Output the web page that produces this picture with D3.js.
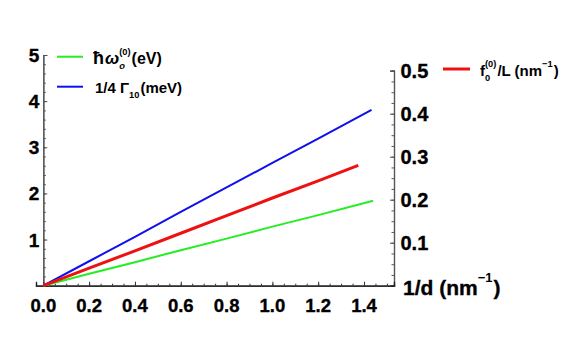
<!DOCTYPE html>
<html>
<head>
<meta charset="utf-8">
<script src="https://cdn.jsdelivr.net/npm/d3@7"></script>
<style>
  body { margin: 0; background: #fff; }
  svg { display: block; font-family: "Liberation Sans", Arial, sans-serif; font-weight: bold; }
  .lbl { stroke: #000; stroke-width: 0.35px; }
</style>
</head>
<body>
<div id="chart"></div>
<script>
// valores
const xBlue = [0, 0.2, 0.4, 0.6, 0.8, 1.0, 1.2, 1.433];
const blueVals = [0, 0.53, 1.06, 1.60, 2.13, 2.66, 3.19, 3.81];   // 1/4 Γ10 (meV), eje izquierdo
const xGreen = [0, 0.2, 0.4, 0.6, 0.8, 1.0, 1.2, 1.44];
const greenVals = [0, 0.26, 0.51, 0.77, 1.02, 1.28, 1.53, 1.84];   // ħω (eV), eje izquierdo
const xRed = [0, 0.2, 0.4, 0.6, 0.8, 1.0, 1.2, 1.375];
const redVals = [0, 0.041, 0.081, 0.122, 0.163, 0.204, 0.244, 0.280]; // f0/L, eje derecho

const xTicks = [0, 0.2, 0.4, 0.6, 0.8, 1.0, 1.2, 1.4];
const leftTicks = [1, 2, 3, 4, 5];
const rightTicks = [0.1, 0.2, 0.3, 0.4, 0.5];

const width = 581, height = 345;
const svg = d3.select("#chart").append("svg")
  .attr("width", width).attr("height", height);

const x = d3.scaleLinear().domain([-0.032, 1.531]).range([36, 394]);
const yL = d3.scaleLinear().domain([0, 5]).range([285.7, 55]);
const yR = d3.scaleLinear().domain([0, 0.5]).range([285.7, 70.7]);

const axisCol = "#555";

// eje izquierdo
const gl = svg.append("g").attr("transform", `translate(${x(0)},0)`);
gl.call(d3.axisRight(yL).tickValues(leftTicks).tickSize(4).tickFormat(""));
gl.append("g").call(d3.axisRight(yL).tickValues(d3.range(0, 5.01, 0.2)).tickSize(2.5).tickFormat(""));
gl.selectAll("path").attr("stroke", axisCol).attr("stroke-width", 1.2);
gl.selectAll("line").attr("stroke", axisCol);
gl.selectAll(".ltick").data(leftTicks).enter().append("text")
  .attr("class", "lbl").attr("fill", "#000")
  .attr("x", -4).attr("y", d => yL(d) + 7)
  .attr("text-anchor", "end").style("font-size", "19px").text(d => d);

// eje derecho
const gr = svg.append("g").attr("transform", `translate(${x.range()[1]},0)`);
gr.call(d3.axisLeft(yR).tickValues(rightTicks).tickSize(4).tickFormat(""));
gr.append("g").call(d3.axisLeft(yR).tickValues(d3.range(0, 0.501, 0.025)).tickSize(2.5).tickFormat(""));
gr.selectAll("path").attr("stroke", axisCol).attr("stroke-width", 1.2);
gr.selectAll("line").attr("stroke", axisCol);
gr.selectAll(".rtick").data(rightTicks).enter().append("text")
  .attr("class", "lbl").attr("fill", "#000")
  .attr("x", 6.5).attr("y", d => yR(d) + 7.5)
  .attr("text-anchor", "start").style("font-size", "20px").text(d => d.toFixed(1));

// eje inferior
const gb = svg.append("g").attr("transform", `translate(0,${yL(0)})`);
gb.call(d3.axisTop(x).tickValues(xTicks).tickSize(4).tickFormat(""));
gb.append("g").call(d3.axisTop(x).tickValues(d3.range(0, 1.53, 0.05)).tickSize(2).tickFormat(""));
gb.selectAll("path").attr("stroke", "#222").attr("stroke-width", 1.3);
gb.selectAll("line").attr("stroke", "#333");
gb.selectAll(".xtick").data(xTicks).enter().append("text")
  .attr("class", "lbl").attr("fill", "#000")
  .attr("x", d => x(d)).attr("y", 26)
  .attr("text-anchor", "middle").style("font-size", "18.5px").text(d => d.toFixed(1));

// líneas
function curve(xs, ys, yScale, color, w) {
  const pts = xs.map((v, i) => [v, ys[i]]);
  svg.append("path").datum(pts)
    .attr("fill", "none").attr("stroke", color).attr("stroke-width", w)
    .attr("d", d3.line().x(d => x(d[0])).y(d => yScale(d[1])));
}
curve(xGreen, greenVals, yL, "#22ee22", 2);
curve(xBlue, blueVals, yL, "#1010ee", 2);
curve(xRed, redVals, yR, "#ee1111", 3);

// texto con sub/superíndices
function rich(x0, y0, parts, size, cls) {
  let cx = x0;
  parts.forEach(p => {
    if (p.k === "n") {
      const fs = p.size || size;
      const t = svg.append("text").attr("class", cls || null).attr("x", cx).attr("y", y0)
        .style("font-size", fs + "px").style("font-style", p.i ? "italic" : "normal").text(p.t);
      cx += t.node().getComputedTextLength() + (p.pad || 0);
    } else {
      const s = size * 0.62;
      let w = 0;
      if (p.sub != null) {
        const t = svg.append("text").attr("x", cx).attr("y", y0 + size * 0.3)
          .style("font-size", s + "px").style("font-style", p.i ? "italic" : "normal").text(p.sub);
        w = Math.max(w, t.node().getComputedTextLength());
      }
      if (p.sup != null) {
        const t = svg.append("text").attr("x", cx).attr("y", y0 - size * 0.62)
          .style("font-size", s + "px").text(p.sup);
        w = Math.max(w, t.node().getComputedTextLength());
      }
      cx += w + 1;
    }
  });
}

// leyenda
const legFont = 15;
svg.append("line").attr("x1", 57).attr("x2", 83).attr("y1", 56.7).attr("y2", 56.7)
  .attr("stroke", "#22ee22").attr("stroke-width", 2);
rich(93, 64, [{k: "n", t: "ħ", pad: 1, size: 18}, {k: "n", t: "ω", i: true, size: 17}, {k: "s", sub: "o", sup: "(0)", i: true}, {k: "n", t: "(eV)", size: 16}], legFont);

svg.append("line").attr("x1", 57).attr("x2", 83).attr("y1", 86.7).attr("y2", 86.7)
  .attr("stroke", "#1010ee").attr("stroke-width", 2);
rich(95, 93, [{k: "n", t: "1/4 Γ"}, {k: "s", sub: "10"}, {k: "n", t: "(meV)"}], legFont);

svg.append("line").attr("x1", 443).attr("x2", 470).attr("y1", 69).attr("y2", 69)
  .attr("stroke", "#ee1111").attr("stroke-width", 3);
rich(480, 76, [{k: "n", t: "f"}, {k: "s", sub: "0", sup: "(0)"}, {k: "n", t: "/L (nm"}, {k: "s", sup: "−1"}, {k: "n", t: ")"}], legFont);

// título del eje x
rich(403, 295, [{k: "n", t: "1/d (nm"}, {k: "s", sup: "−1"}, {k: "n", t: ")"}], 21, "lbl");
</script>
</body>
</html>
